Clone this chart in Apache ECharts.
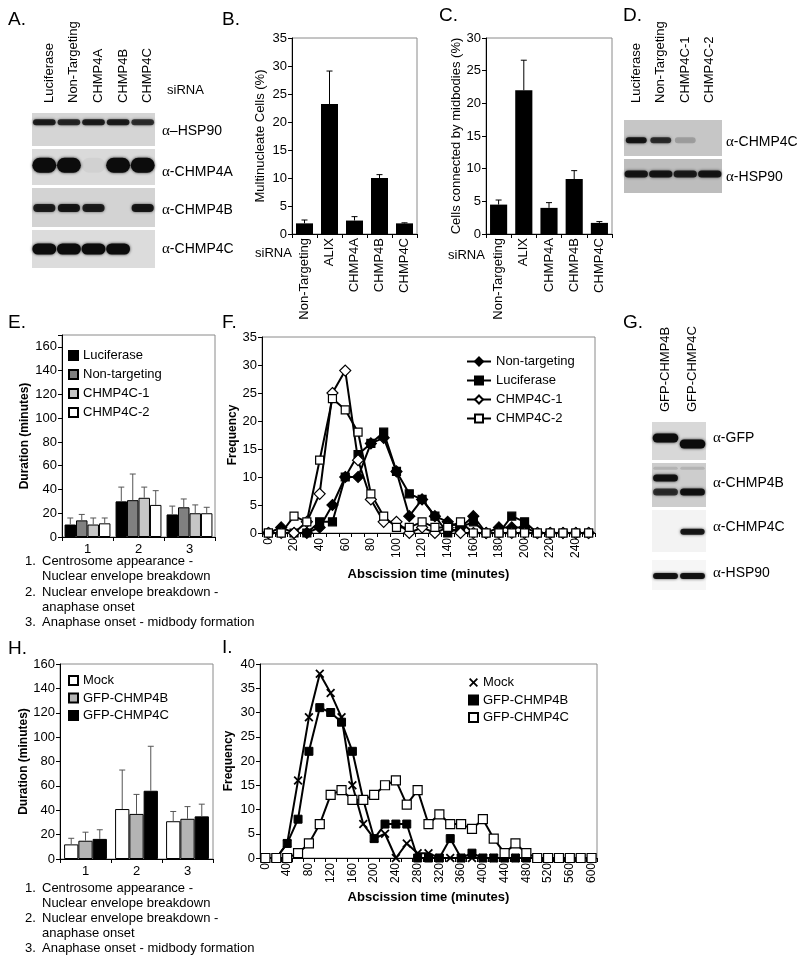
<!DOCTYPE html>
<html>
<head>
<meta charset="utf-8">
<script src="https://cdn.jsdelivr.net/npm/echarts@6.0.0/dist/echarts.min.js"></script>
<style>
html,body{margin:0;padding:0;background:#fff;}
#chart{width:800px;height:959px;}
</style>
</head>
<body>
<div id="chart"></div>
<script>
// ================= DATA =================
// Panel B / C
const siRNACats = ['Non-Targeting', 'ALIX', 'CHMP4A', 'CHMP4B', 'CHMP4C'];
const multinucleatePct = [1.9, 23.2, 2.4, 10.0, 1.9];
const multinucleateErr = [0.6, 5.9, 0.7, 0.6, 0.1];
const midbodyPct = [4.5, 22.0, 4.0, 8.4, 1.7];
const midbodyErr = [0.7, 4.6, 0.8, 1.3, 0.2];

// Panel E
const stageCats = ['1', '2', '3'];
const eNames = ['Luciferase', 'Non-targeting', 'CHMP4C-1', 'CHMP4C-2'];
const eLuciferase = [10.5, 30, 19];
const eLuciferaseErr = [5.5, 12, 7];
const eNonTargeting = [14, 31, 25];
const eNonTargetingErr = [5, 22, 7];
const eCHMP4C1 = [10.5, 33, 20];
const eCHMP4C1Err = [5.5, 9, 7];
const eCHMP4C2 = [11.5, 27, 20];
const eCHMP4C2Err = [4.5, 12, 5];

// Panel F
const fTimes = ['0','10','20','30','40','50','60','70','80','90','100','110','120','130','140','150','160','170','180','190','200','210','220','230','240','250'];
const fNames = ['Non-targeting', 'Luciferase', 'CHMP4C-1', 'CHMP4C-2'];
const fNonTargeting = [0,1,0,0,1,5,10,10,16,17,11,3,6,3,2,1,3,0,1,1,1,0,0,0,0,0];
const fLuciferase   = [0,0,0,0,2,2,10,14,16,18,11,7,6,3,0,1,2,0,0,3,2,0,0,0,0,0];
const fCHMP4C1      = [0,0,0,2,7,25,29,13,6,2,2,0,1,0,1,0,0,0,0,0,0,0,0,0,0,0];
const fCHMP4C2      = [0,0,3,2,13,24,22,18,7,3,1,1,2,1,1,2,0,0,0,0,0,0,0,0,0,0];

// Panel H
const hNames = ['Mock', 'GFP-CHMP4B', 'GFP-CHMP4C'];
const hMock = [12, 41, 31];
const hMockErr = [5, 32, 8];
const hGFP4B = [15, 37, 33];
const hGFP4BErr = [7, 16, 10];
const hGFP4C = [16.5, 56, 35];
const hGFP4CErr = [7.5, 36.5, 10];

// Panel I
const iTimes = ['0','20','40','60','80','100','120','140','160','180','200','220','240','260','280','300','320','340','360','380','400','420','440','460','480','500','520','540','560','580','600'];
const iNames = ['Mock', 'GFP-CHMP4B', 'GFP-CHMP4C'];
const iMock   = [0,0,3,16,29,38,34,29,15,7,4,5,0,3,1,1,0,0,0,0,0,0,0,0,0,0,0,0,0,0,0];
const iGFP4B  = [0,0,3,8,22,31,30,28,22,12,4,7,7,7,0,0,0,4,0,1,0,0,0,0,0,0,0,0,0,0,0];
const iGFP4C  = [0,0,0,1,3,7,13,14,12,12,13,15,16,11,14,7,9,7,7,6,8,4,1,3,1,0,0,0,0,0,0];

// Stage descriptions (E, H)
const stageNotes = [
  ['1.', 'Centrosome appearance -'],
  ['',   'Nuclear envelope breakdown'],
  ['2.', 'Nuclear envelope breakdown -'],
  ['',   'anaphase onset'],
  ['3.', 'Anaphase onset - midbody formation']
];

// Western blots: lanes and band intensities (0..1)
const aLanes = ['Luciferase', 'Non-Targeting', 'CHMP4A', 'CHMP4B', 'CHMP4C'];
const aHSP90  = [0.85, 0.8, 0.85, 0.85, 0.75];
const aCHMP4A = [1, 1, 0.04, 1, 1];
const aCHMP4B = [0.85, 0.9, 0.85, 0, 0.9];
const aCHMP4C = [1, 1, 1, 1, 0];
const dLanes = ['Luciferase', 'Non-Targeting', 'CHMP4C-1', 'CHMP4C-2'];
const dCHMP4C = [0.9, 0.75, 0.2, 0];
const dHSP90  = [0.9, 0.9, 0.85, 0.9];
const gLanes = ['GFP-CHMP4B', 'GFP-CHMP4C'];
const gGFPupper = [1, 0];
const gGFPlower = [0, 1];
const gCHMP4Bupper = [0.95, 0];
const gCHMP4Blower = [0.75, 0.95];
const gCHMP4Bfaint = [0.12, 0.12];
const gCHMP4C = [0, 0.9];
const gHSP90  = [0.95, 0.95];

// ================= CHART =================
const FONT = '"Liberation Sans", Arial, Helvetica, sans-serif';
const grids = [], xAxes = [], yAxes = [], series = [], legends = [], graphics = [];
const strip = n => n.slice(n.indexOf(':') + 1);

function chartGrid(left, top, width, height) {
  grids.push({left, top, width, height, show: true, borderColor: '#8a8a8a', borderWidth: 1, backgroundColor: 'transparent'});
  return grids.length - 1;
}
function catX(gi, data, label, extra) {
  xAxes.push(Object.assign({
    gridIndex: gi, type: 'category', data,
    axisLine: {show: true, lineStyle: {color: '#000', width: 1}},
    axisTick: {show: true, length: 4, lineStyle: {color: '#000'}},
    axisLabel: Object.assign({color: '#000', fontFamily: FONT, fontSize: 13}, label),
    splitLine: {show: false}
  }, extra || {}));
}
function valY(gi, max, interval, name, nameGap, nameStyle, label) {
  yAxes.push({
    gridIndex: gi, type: 'value', min: 0, max, interval,
    axisLine: {show: true, lineStyle: {color: '#000', width: 1}},
    axisTick: {show: true, length: 4, lineStyle: {color: '#000'}},
    axisLabel: Object.assign({color: '#000', fontFamily: FONT, fontSize: 13, margin: 5}, label || {}),
    splitLine: {show: false},
    name, nameLocation: 'middle', nameGap,
    nameTextStyle: Object.assign({color: '#000', fontFamily: FONT, fontSize: 13}, nameStyle || {})
  });
}
function errSeries(gi, vals, errs, k, n, gapFrac, color) {
  return {
    type: 'custom', xAxisIndex: gi, yAxisIndex: gi, z: 5, silent: true,
    data: vals.map((v, i) => [i, v, v + errs[i]]),
    encode: {x: 0, y: [1, 2]},
    renderItem(params, api) {
      const band = api.size([1, 0])[0];
      const total = band * (1 - gapFrac);
      const bw = total / n;
      const off = -total / 2 + bw * (k + 0.5);
      const p0 = api.coord([api.value(0), api.value(1)]);
      const p1 = api.coord([api.value(0), api.value(2)]);
      const x = p0[0] + off;
      const cap = 3;
      return {type: 'group', children: [
        {type: 'line', shape: {x1: x, y1: p0[1], x2: x, y2: p1[1]}, style: {stroke: color, lineWidth: 1}},
        {type: 'line', shape: {x1: x - cap, y1: p1[1], x2: x + cap, y2: p1[1]}, style: {stroke: color, lineWidth: 1}}
      ]};
    }
  };
}

// ---- B ----
const gB = chartGrid(292, 38, 125, 196);
catX(gB, siRNACats, {rotate: 90, margin: 4, interval: 0});
valY(gB, 35, 5, 'Multinucleate Cells (%)', 25);
series.push({type: 'bar', xAxisIndex: gB, yAxisIndex: gB, data: multinucleatePct, barCategoryGap: '32%', itemStyle: {color: '#000'}});
series.push(errSeries(gB, multinucleatePct, multinucleateErr, 0, 1, 0.32, '#000'));

// ---- C ----
const gC = chartGrid(486, 38, 126, 196);
catX(gC, siRNACats, {rotate: 90, margin: 4, interval: 0});
valY(gC, 30, 5, 'Cells connected by midbodies (%)', 22);
series.push({type: 'bar', xAxisIndex: gC, yAxisIndex: gC, data: midbodyPct, barCategoryGap: '32%', itemStyle: {color: '#000'}});
series.push(errSeries(gC, midbodyPct, midbodyErr, 0, 1, 0.32, '#000'));

// ---- E ----
const gE = chartGrid(62, 335, 153, 202);
catX(gE, stageCats, {margin: 6});
valY(gE, 170, 20, 'Duration (minutes)', 31, {fontWeight: 'bold', fontSize: 12}, {formatter: v => (v > 160 ? '' : v)});
const eVals = [eLuciferase, eNonTargeting, eCHMP4C1, eCHMP4C2];
const eErrs = [eLuciferaseErr, eNonTargetingErr, eCHMP4C1Err, eCHMP4C2Err];
const eColors = ['#000000', '#808080', '#c6c6c6', '#ffffff'];
eVals.forEach((vals, k) => series.push({type: 'bar', name: 'E:' + eNames[k], xAxisIndex: gE, yAxisIndex: gE, data: vals,
  barGap: '0%', barCategoryGap: '10%', itemStyle: {color: eColors[k], borderColor: '#000', borderWidth: 1}}));
eVals.forEach((vals, k) => series.push(errSeries(gE, vals, eErrs[k], k, 4, 0.10, '#555')));
legends.push({orient: 'vertical', left: 68, top: 349, padding: 0, itemWidth: 9, itemHeight: 9, itemGap: 6, icon: 'rect',
  selectedMode: false, data: eNames.map(n => 'E:' + n), formatter: strip,
  textStyle: {fontSize: 13, color: '#000', fontFamily: FONT}});

// ---- F ----
const gF = chartGrid(262, 337, 333, 196);
catX(gF, fTimes, {rotate: 90, margin: 5, interval: 1, fontSize: 12}, {axisTick: {show: true, length: 4, interval: 0, lineStyle: {color: '#000'}}});
valY(gF, 35, 5, 'Frequency', 23, {fontWeight: 'bold', fontSize: 12});
Object.assign(xAxes[xAxes.length - 1], {name: 'Abscission time (minutes)', nameLocation: 'middle', nameGap: 35,
  nameTextStyle: {color: '#000', fontFamily: FONT, fontSize: 13, fontWeight: 'bold'}});
const fVals = [fNonTargeting, fLuciferase, fCHMP4C1, fCHMP4C2];
const fSym = [['diamond', 11, '#000'], ['rect', 8, '#000'], ['diamond', 11, '#fff'], ['rect', 8, '#fff']];
fVals.forEach((vals, k) => series.push({type: 'line', name: 'F:' + fNames[k], xAxisIndex: gF, yAxisIndex: gF, data: vals,
  symbol: fSym[k][0], symbolSize: fSym[k][1], showAllSymbol: true,
  lineStyle: {color: '#000', width: 2}, itemStyle: {color: fSym[k][2], borderColor: '#000', borderWidth: 1.2}}));
legends.push({orient: 'vertical', left: 466, top: 355, padding: 0, itemWidth: 24, itemHeight: 10, itemGap: 6,
  selectedMode: false, data: fNames.map(n => 'F:' + n), formatter: strip,
  textStyle: {fontSize: 13, color: '#000', fontFamily: FONT}});

// ---- H ----
const gH = chartGrid(60, 664, 153, 195);
catX(gH, stageCats, {margin: 6});
valY(gH, 160, 20, 'Duration (minutes)', 30, {fontWeight: 'bold', fontSize: 12});
const hVals = [hMock, hGFP4B, hGFP4C];
const hErrs = [hMockErr, hGFP4BErr, hGFP4CErr];
const hColors = ['#ffffff', '#b4b4b4', '#000000'];
hVals.forEach((vals, k) => series.push({type: 'bar', name: 'H:' + hNames[k], xAxisIndex: gH, yAxisIndex: gH, data: vals,
  barGap: '0%', barCategoryGap: '16%', itemStyle: {color: hColors[k], borderColor: '#000', borderWidth: 1}}));
hVals.forEach((vals, k) => series.push(errSeries(gH, vals, hErrs[k], k, 3, 0.16, '#555')));
legends.push({orient: 'vertical', left: 68, top: 674, padding: 0, itemWidth: 9, itemHeight: 9, itemGap: 4.5, icon: 'rect',
  selectedMode: false, data: hNames.map(n => 'H:' + n), formatter: strip,
  textStyle: {fontSize: 13, color: '#000', fontFamily: FONT}});

// ---- I ----
const XMARK = 'path://M1.4,0 L5,3.6 L8.6,0 L10,1.4 L6.4,5 L10,8.6 L8.6,10 L5,6.4 L1.4,10 L0,8.6 L3.6,5 L0,1.4 Z';
const gI = chartGrid(260, 664, 337, 194);
catX(gI, iTimes, {rotate: 90, margin: 5, interval: 1, fontSize: 12}, {axisTick: {show: true, length: 4, interval: 0, lineStyle: {color: '#000'}}});
valY(gI, 40, 5, 'Frequency', 25, {fontWeight: 'bold', fontSize: 12});
Object.assign(xAxes[xAxes.length - 1], {name: 'Abscission time (minutes)', nameLocation: 'middle', nameGap: 33,
  nameTextStyle: {color: '#000', fontFamily: FONT, fontSize: 13, fontWeight: 'bold'}});
const iVals = [iMock, iGFP4B, iGFP4C];
const iSym = [[XMARK, 9, '#000', 0], ['rect', 8, '#000', 1], ['rect', 9, '#fff', 1.2]];
iVals.forEach((vals, k) => series.push({type: 'line', name: 'I:' + iNames[k], xAxisIndex: gI, yAxisIndex: gI, data: vals,
  symbol: iSym[k][0], symbolSize: iSym[k][1], showAllSymbol: true,
  lineStyle: {color: '#000', width: 2}, itemStyle: {color: iSym[k][2], borderColor: '#000', borderWidth: iSym[k][3]}}));
legends.push({orient: 'vertical', left: 468, top: 676, padding: 0, itemWidth: 9, itemHeight: 9, itemGap: 4.5,
  selectedMode: false,
  data: [{name: 'I:Mock', icon: XMARK}, {name: 'I:GFP-CHMP4B', icon: 'rect'}, {name: 'I:GFP-CHMP4C', icon: 'rect'}],
  formatter: strip, textStyle: {fontSize: 13, color: '#000', fontFamily: FONT}});

// ---- Western blots ----
function blotGrid(left, top, width, height, bg, lanes, labelMargin, labelExtra) {
  grids.push({left, top, width, height, show: true, backgroundColor: bg, borderWidth: 0});
  const gi = grids.length - 1;
  xAxes.push({gridIndex: gi, type: 'category', data: lanes, position: 'top',
    axisLine: {show: false}, axisTick: {show: false}, splitLine: {show: false},
    axisLabel: Object.assign({show: labelMargin != null, rotate: 90, margin: labelMargin || 0, interval: 0, color: '#000', fontFamily: FONT, fontSize: 13}, labelExtra || {})});
  yAxes.push({gridIndex: gi, type: 'value', min: 0, max: 1, show: false});
  return gi;
}
function bandRow(gi, intens, yFrac, h, wFrac) {
  series.push({type: 'custom', xAxisIndex: gi, yAxisIndex: gi, silent: true, z: 3,
    data: intens.map((v, i) => [i, v]), encode: {x: 0, y: 1},
    renderItem(params, api) {
      const v = api.value(1);
      if (!(v > 0)) return null;
      const c = api.coord([api.value(0), yFrac]);
      const w = api.size([1, 0])[0] * wFrac;
      return {type: 'rect', shape: {x: c[0] - w / 2, y: c[1] - h / 2, width: w, height: h, r: h / 2},
        style: {fill: 'rgba(12,12,12,' + v + ')', shadowBlur: 3, shadowColor: 'rgba(0,0,0,' + (v * 0.8) + ')'}};
    }});
}
const gA1 = blotGrid(32, 113, 123, 33, '#d5d5d5', aLanes, 10, {verticalAlign: 'top', lineHeight: 10});
const gA2 = blotGrid(32, 149, 123, 36, '#dadada', aLanes, null);
const gA3 = blotGrid(32, 188, 123, 39, '#d3d3d3', aLanes, null);
const gA4 = blotGrid(32, 230, 123, 38, '#dcdcdc', aLanes, null);
bandRow(gA1, aHSP90, 0.72, 6, 0.92);
bandRow(gA2, aCHMP4A, 0.55, 15, 0.97);
bandRow(gA3, aCHMP4B, 0.49, 8, 0.9);
bandRow(gA4, aCHMP4C, 0.5, 11, 0.97);
const gD1 = blotGrid(624, 120, 98, 36, '#c6c6c6', dLanes, 17);
const gD2 = blotGrid(624, 159, 98, 34, '#bdbdbd', dLanes, null);
bandRow(gD1, dCHMP4C, 0.44, 6, 0.85);
bandRow(gD2, dHSP90, 0.56, 7, 0.95);
const gG1 = blotGrid(652, 422, 54, 38, '#d8d8d8', gLanes, 10);
const gG2 = blotGrid(652, 463, 54, 44, '#cdcdcd', gLanes, null);
const gG3 = blotGrid(652, 510, 54, 42, '#f3f3f3', gLanes, null);
const gG4 = blotGrid(652, 560, 54, 30, '#f6f6f6', gLanes, null);
bandRow(gG1, gGFPupper, 0.58, 9, 0.95);
bandRow(gG1, gGFPlower, 0.42, 9, 0.95);
bandRow(gG2, gCHMP4Bfaint, 0.88, 3, 0.9);
bandRow(gG2, gCHMP4Bupper, 0.66, 7, 0.92);
bandRow(gG2, gCHMP4Blower, 0.34, 7, 0.92);
bandRow(gG3, gCHMP4C, 0.48, 6, 0.9);
bandRow(gG4, gHSP90, 0.47, 6, 0.92);

// ---- Text (panel letters, blot labels, notes) ----
function txt(x, y, text, size, extra) {
  graphics.push({type: 'text', x, y, silent: true,
    style: Object.assign({text, fill: '#000', font: size + 'px ' + FONT, verticalAlign: 'middle', align: 'left'}, extra || {})});
}
function blotLabel(x, y, rest) {
  graphics.push({type: 'text', x, y, silent: true, style: {
    text: '{a|\u03b1}{b|' + rest + '}', verticalAlign: 'middle', align: 'left',
    rich: {a: {fontFamily: '"Liberation Serif", "DejaVu Serif", serif', fontSize: 15, fill: '#000'},
           b: {fontFamily: FONT, fontSize: 14, fill: '#000'}}}});
}
[['A.', 8, 20], ['B.', 222, 20], ['C.', 439, 16], ['D.', 623, 16], ['E.', 8, 323], ['F.', 222, 323], ['G.', 623, 323], ['H.', 8, 649], ['I.', 222, 648]]
  .forEach(([t, x, y]) => txt(x, y, t, 19));
txt(167, 90, 'siRNA', 13);
txt(255, 253, 'siRNA', 13);
txt(448, 255, 'siRNA', 13);
blotLabel(162, 131, '\u2013HSP90');
blotLabel(162, 172, '-CHMP4A');
blotLabel(162, 210, '-CHMP4B');
blotLabel(162, 249, '-CHMP4C');
blotLabel(726, 142, '-CHMP4C');
blotLabel(726, 177, '-HSP90');
blotLabel(713, 438, '-GFP');
blotLabel(713, 483, '-CHMP4B');
blotLabel(713, 527, '-CHMP4C');
blotLabel(713, 573, '-HSP90');
[561, 576, 592, 607, 622].forEach((y, i) => { if (stageNotes[i][0]) txt(25, y, stageNotes[i][0], 13); txt(42, y, stageNotes[i][1], 13); });
[888, 903, 918, 933, 948].forEach((y, i) => { if (stageNotes[i][0]) txt(25, y, stageNotes[i][0], 13); txt(42, y, stageNotes[i][1], 13); });

const chart = echarts.init(document.getElementById('chart'), null, {renderer: 'canvas'});
chart.setOption({
  animation: false,
  backgroundColor: '#ffffff',
  textStyle: {fontFamily: FONT, color: '#000'},
  grid: grids, xAxis: xAxes, yAxis: yAxes, series, legend: legends,
  graphic: {elements: graphics}
});
</script>
</body>
</html>
